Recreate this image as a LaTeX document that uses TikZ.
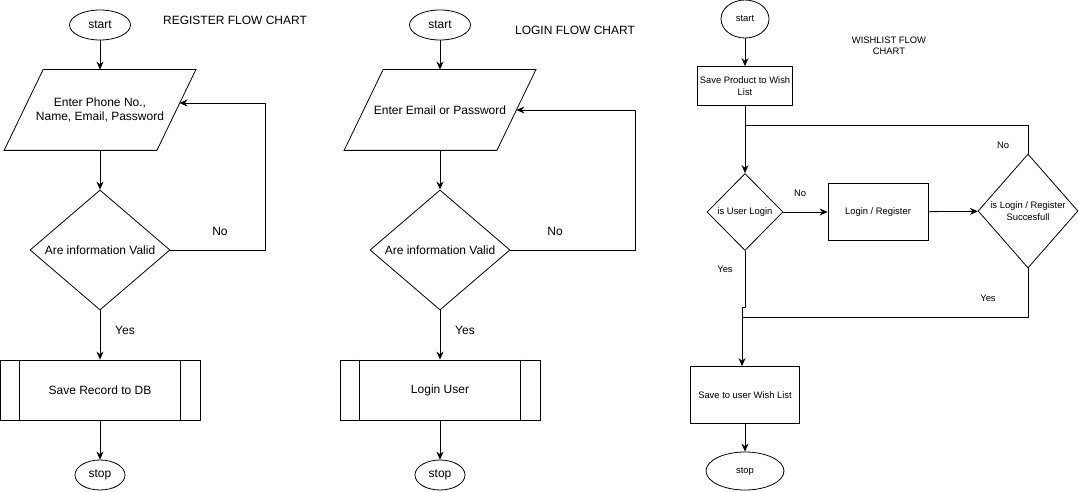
\documentclass[tikz,border=0pt]{standalone}
\usepackage{fontspec}
\setmainfont{Liberation Sans}
\usetikzlibrary{shapes.geometric,arrows.meta}

\begin{document}
\begin{tikzpicture}
	[x=1pt,y=-1pt,thick,>={Stealth[length=8pt,width=7pt]},
	every node/.style={font=\fontsize{12}{14}\selectfont,align=center},
	term/.style={draw,ellipse,inner sep=0pt,minimum width=61pt,minimum height=30pt},
	io/.style={rectangle,inner sep=0pt,minimum width=152pt,minimum height=80pt},
	slanted/.style={draw,thick},
	decision/.style={draw,diamond,inner sep=0pt,aspect=1.17,minimum width=140pt,minimum height=120pt},
	subproc/.style={draw,rectangle,minimum width=200pt,minimum height=60pt},
	small/.style={font=\fontsize{9.4}{11.5}\selectfont}]
	\useasboundingbox (0,0) rectangle (1079,492);

	% register
	\node[term] (s1) at (100,25) {start};
	\node (t1) at (235,20) {REGISTER FLOW CHART};
	\node[io] (p1) at (100,110) {Enter Phone No.,\\Name, Email, Password};
	\node[decision] (d1) at (100,250) {Are information Valid};
	\node[subproc] (r1) at (100,390) {Save Record to DB};
	\node[term,minimum width=50pt] (e1) at (100,475) {stop};
	\node (n1) at (220,231) {No};
	\node (y1) at (125,330) {Yes};
	\coordinate (f1) at (179.5,103);
	\draw[slanted] ([xshift=-19.5pt]p1.south west) -- ([xshift=19.5pt]p1.north west)
		-- ([xshift=19.5pt]p1.north east) -- ([xshift=-19.5pt]p1.south east) -- cycle;
	\draw ([xshift=20pt]r1.north west) -- ([xshift=20pt]r1.south west);
	\draw ([xshift=-20pt]r1.north east) -- ([xshift=-20pt]r1.south east);
	\draw[->] (s1) -- (p1);
	\draw[->] (p1) -- (d1);
	\draw[->] (d1) -- (r1);
	\draw[->] (r1) -- (e1);
	\draw[->] (d1.east) -- (265,250) |- (f1);

	% login
	\node[term] (s2) at (440,25) {start};
	\node (t2) at (575,30) {LOGIN FLOW CHART};
	\node[io] (p2) at (440,110) {Enter Email or Password};
	\node[decision] (d2) at (440,250) {Are information Valid};
	\node[subproc] (r2) at (440,390) {Login User};
	\node[term,minimum width=50pt] (e2) at (440,475) {stop};
	\node (n2) at (555,231) {No};
	\node (y2) at (465,330) {Yes};
	\draw[slanted] ([xshift=-19.5pt]p2.south west) -- ([xshift=19.5pt]p2.north west)
		-- ([xshift=19.5pt]p2.north east) -- ([xshift=-19.5pt]p2.south east) -- cycle;
	\draw ([xshift=20pt]r2.north west) -- ([xshift=20pt]r2.south west);
	\draw ([xshift=-20pt]r2.north east) -- ([xshift=-20pt]r2.south east);
	\draw[->] (s2) -- (p2);
	\draw[->] (p2) -- (d2);
	\draw[->] (d2) -- (r2);
	\draw[->] (r2) -- (e2);
	\draw[->] (d2.east) -- (635,250) |- (p2.east);

	% wishlist
	\node[term,small,minimum width=48pt,minimum height=38pt] (s3) at (745,19) {start};
	\node[small] (t3) at (889,46) {WISHLIST FLOW\\CHART};
	\node[draw,small,minimum width=95pt,minimum height=39pt,inner sep=1pt] (b1) at (745,86) {Save Product to Wish\\List};
	\node[draw,diamond,small,inner sep=0pt,minimum width=76pt,minimum height=77pt] (d3) at (745,212) {is User Login};
	\node[draw,small,minimum width=100pt,minimum height=57pt] (b2) at (878,212) {Login / Register};
	\node[draw,diamond,small,inner sep=0pt,minimum width=100pt,minimum height=114pt] (d4) at (1028,211) {is Login / Register\\Succesfull};
	\node[draw,small,minimum width=109pt,minimum height=57pt] (b3) at (745,395) {Save to user Wish List};
	\node[term,small,minimum width=78pt,minimum height=38pt] (e3) at (745,471) {stop};
	\node[small] (n3) at (800,193) {No};
	\node[small] (n4) at (1003,145) {No};
	\node[small] (y3) at (725,269) {Yes};
	\node[small] (y4) at (988,298) {Yes};
	\coordinate (j1) at (745,125);
	\coordinate (j2) at (742,317);
	\draw[->] (s3) -- (b1);
	\draw[->] (b1) -- (d3);
	\draw (d4.north) |- (j1);
	\draw[->] (d3) -- (b2);
	\draw[->] (b2) -- (d4);
	\draw (d4.south) |- (j2);
	\draw[->] (d3.south) -- ++(0,56) -| ([xshift=-3pt]b3.north);
	\draw[->] (b3) -- (e3);
\end{tikzpicture}
\end{document}
